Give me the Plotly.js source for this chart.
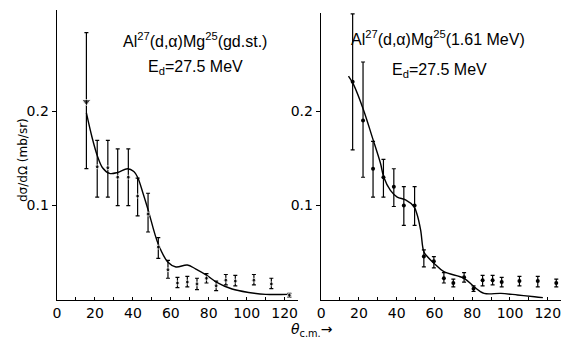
<!DOCTYPE html>
<html>
<head>
<meta charset="utf-8">
<script src="https://cdn.plot.ly/plotly-3.0.1.min.js"></script>
<style>html,body{margin:0;padding:0;background:#fff;}#chart{width:562px;height:339px;}</style>
</head>
<body>
<div id="chart"></div>
<script>
// ---- Left panel: Al27(d,alpha)Mg25 ground state ----
const gsAngle = [15.5, 21.2, 26.8, 32.0, 37.6, 42.5, 48.0, 53.4, 58.5, 63.5, 68.7, 73.8, 78.8, 83.9, 89.0, 94.0, 103.8, 113.0, 122.5];
const gsSigma = [0.210, 0.141, 0.140, 0.130, 0.130, 0.110, 0.091, 0.056, 0.032, 0.018, 0.019, 0.017, 0.023, 0.015, 0.021, 0.020, 0.021, 0.017, 0.005];
const gsErrHigh = [0.283, 0.169, 0.169, 0.160, 0.160, 0.129, 0.113, 0.066, 0.042, 0.024, 0.025, 0.023, 0.028, 0.020, 0.027, 0.026, 0.027, 0.023, 0.007];
const gsErrLow  = [0.139, 0.109, 0.109, 0.100, 0.100, 0.089, 0.072, 0.044, 0.023, 0.013, 0.014, 0.011, 0.018, 0.010, 0.016, 0.015, 0.016, 0.012, 0.003];
const gsCurveAngle = [15.5, 18.5, 21.2, 24.0, 27.7, 32.0, 37.2, 40.5, 42.5, 45.5, 48.0, 53.4, 58.5, 62.7, 68.7, 73.0, 79.0, 84.0, 92.3, 101.0, 110.0, 122.0];
const gsCurveSigma = [0.198, 0.172, 0.153, 0.140, 0.134, 0.135, 0.139, 0.136, 0.130, 0.112, 0.0957, 0.059, 0.040, 0.035, 0.037, 0.033, 0.026, 0.019, 0.0116, 0.008, 0.006, 0.006];

// ---- Right panel: Al27(d,alpha)Mg25 1.61 MeV ----
const exAngle = [16.7, 22.2, 27.5, 33.0, 38.5, 43.8, 49.5, 54.4, 59.7, 65.0, 70.0, 75.7, 80.7, 85.5, 90.8, 95.6, 105.0, 114.7, 124.5];
const exSigma = [0.231, 0.190, 0.139, 0.130, 0.120, 0.100, 0.100, 0.046, 0.041, 0.023, 0.018, 0.024, 0.012, 0.021, 0.021, 0.019, 0.020, 0.020, 0.018];
const exErrHigh = [0.303, 0.252, 0.168, 0.149, 0.139, 0.120, 0.120, 0.053, 0.046, 0.029, 0.022, 0.029, 0.015, 0.026, 0.026, 0.024, 0.025, 0.025, 0.022];
const exErrLow  = [0.159, 0.130, 0.109, 0.109, 0.099, 0.079, 0.079, 0.035, 0.034, 0.018, 0.014, 0.019, 0.009, 0.015, 0.016, 0.014, 0.015, 0.014, 0.014];
const exCurveAngle = [14.5, 17.2, 22.5, 27.0, 31.4, 33.2, 36.7, 40.3, 44.7, 49.1, 50.9, 52.7, 54.4, 56.2, 59.7, 65.0, 75.7, 81.0, 86.3, 95.2, 104.0, 113.0, 117.4];
const exCurveSigma = [0.237, 0.228, 0.201, 0.173, 0.145, 0.130, 0.116, 0.109, 0.106, 0.099, 0.090, 0.074, 0.051, 0.046, 0.039, 0.030, 0.023, 0.014, 0.007, 0.007, 0.0053, 0.0035, 0.0025];

const yTickVals = [0.1, 0.2];
const yTickText = ['0.1', '0.2'];

function plus(v, hi) { return v.map((y, i) => hi[i] - y); }
function minus(v, lo) { return v.map((y, i) => y - lo[i]); }

const FONT = 'DejaVu Sans, Arial, sans-serif';
const TFONT = 'Liberation Sans, Arial, sans-serif';

const traces = [
  {
    x: gsCurveAngle, y: gsCurveSigma, mode: 'lines', type: 'scatter',
    line: {color: '#000', width: 1.4, shape: 'spline', smoothing: 1},
    xaxis: 'x', yaxis: 'y', hoverinfo: 'skip'
  },
  {
    x: gsAngle, y: gsSigma, mode: 'markers', type: 'scatter',
    marker: {color: '#000', size: gsAngle.map((a, i) => i === 0 ? 8 : 4),
             symbol: gsAngle.map((a, i) => i === 0 ? 'triangle-down' : 'circle')},
    error_y: {type: 'data', symmetric: false, array: plus(gsSigma, gsErrHigh), arrayminus: minus(gsSigma, gsErrLow),
              color: '#000', thickness: 1.2, width: 2},
    xaxis: 'x', yaxis: 'y'
  },
  {
    x: exCurveAngle, y: exCurveSigma, mode: 'lines', type: 'scatter',
    line: {color: '#000', width: 1.4, shape: 'spline', smoothing: 1},
    xaxis: 'x2', yaxis: 'y2', hoverinfo: 'skip'
  },
  {
    x: exAngle, y: exSigma, mode: 'markers', type: 'scatter',
    marker: {color: '#000', size: 4},
    error_y: {type: 'data', symmetric: false, array: plus(exSigma, exErrHigh), arrayminus: minus(exSigma, exErrLow),
              color: '#000', thickness: 1.2, width: 2},
    xaxis: 'x2', yaxis: 'y2'
  }
];

const xCommon = {
  range: [0, 127], showgrid: false, zeroline: false, showline: true, linecolor: '#000', linewidth: 1.4,
  tickmode: 'linear', tick0: 0, dtick: 20, ticks: 'inside', ticklen: 3, tickcolor: '#000',
  minor: {dtick: 10, tick0: 0, ticks: 'inside', ticklen: 3, tickcolor: '#000', showgrid: false},
  tickfont: {family: FONT, size: 14, color: '#000'}, fixedrange: true
};
const yCommon = {
  showgrid: false, zeroline: false, showline: true, linecolor: '#000', linewidth: 1.4,
  tickmode: 'array', tickvals: yTickVals, ticktext: yTickText, ticks: 'outside', ticklen: 4, tickcolor: '#000',
  tickfont: {family: FONT, size: 14, color: '#000'}, fixedrange: true
};

const layout = {
  width: 562, height: 339,
  margin: {l: 57, r: 1, t: 10, b: 39},
  paper_bgcolor: '#fff', plot_bgcolor: '#fff',
  showlegend: false,
  xaxis: Object.assign({}, xCommon, {domain: [0, 0.478], anchor: 'y'}),
  yaxis: Object.assign({}, yCommon, {domain: [0, 1], range: [0, 0.307], anchor: 'x'}),
  xaxis2: Object.assign({}, xCommon, {domain: [0.524, 1], anchor: 'y2'}),
  yaxis2: Object.assign({}, yCommon, {domain: [0, 0.99], range: [0, 0.304], anchor: 'x2'}),
  annotations: [
    {xref: 'paper', yref: 'paper', x: (23 - 57) / 504, y: (300 - 160) / 290, text: 'dσ/dΩ (mb/sr)', textangle: -90,
     showarrow: false, font: {family: FONT, size: 12, color: '#000'}, xanchor: 'center', yanchor: 'middle'},
    {xref: 'paper', yref: 'paper', x: (312 - 57) / 504, y: (300 - 330) / 290, text: '<i>θ</i><sub>c.m.</sub>→',
     showarrow: false, font: {family: FONT, size: 14, color: '#000'}, xanchor: 'center', yanchor: 'middle'},
    {xref: 'paper', yref: 'paper', x: (195 - 57) / 504, y: (300 - 40) / 290,
     text: 'Al<sup>27</sup>(d,α)Mg<sup>25</sup>(gd.st.)', showarrow: false,
     font: {family: TFONT, size: 16, color: '#000'}, xanchor: 'center', yanchor: 'middle'},
    {xref: 'paper', yref: 'paper', x: (195 - 57) / 504, y: (300 - 68) / 290,
     text: 'E<sub>d</sub>=27.5 MeV', showarrow: false,
     font: {family: TFONT, size: 16, color: '#000'}, xanchor: 'center', yanchor: 'middle'},
    {xref: 'paper', yref: 'paper', x: (438 - 57) / 504, y: (300 - 38) / 290,
     text: 'Al<sup>27</sup>(d,α)Mg<sup>25</sup>(1.61 MeV)', showarrow: false,
     font: {family: TFONT, size: 16, color: '#000'}, xanchor: 'center', yanchor: 'middle'},
    {xref: 'paper', yref: 'paper', x: (439 - 57) / 504, y: (300 - 70) / 290,
     text: 'E<sub>d</sub>=27.5 MeV', showarrow: false,
     font: {family: TFONT, size: 16, color: '#000'}, xanchor: 'center', yanchor: 'middle'}
  ]
};

Plotly.newPlot('chart', traces, layout, {staticPlot: true, displayModeBar: false});
</script>
</body>
</html>
